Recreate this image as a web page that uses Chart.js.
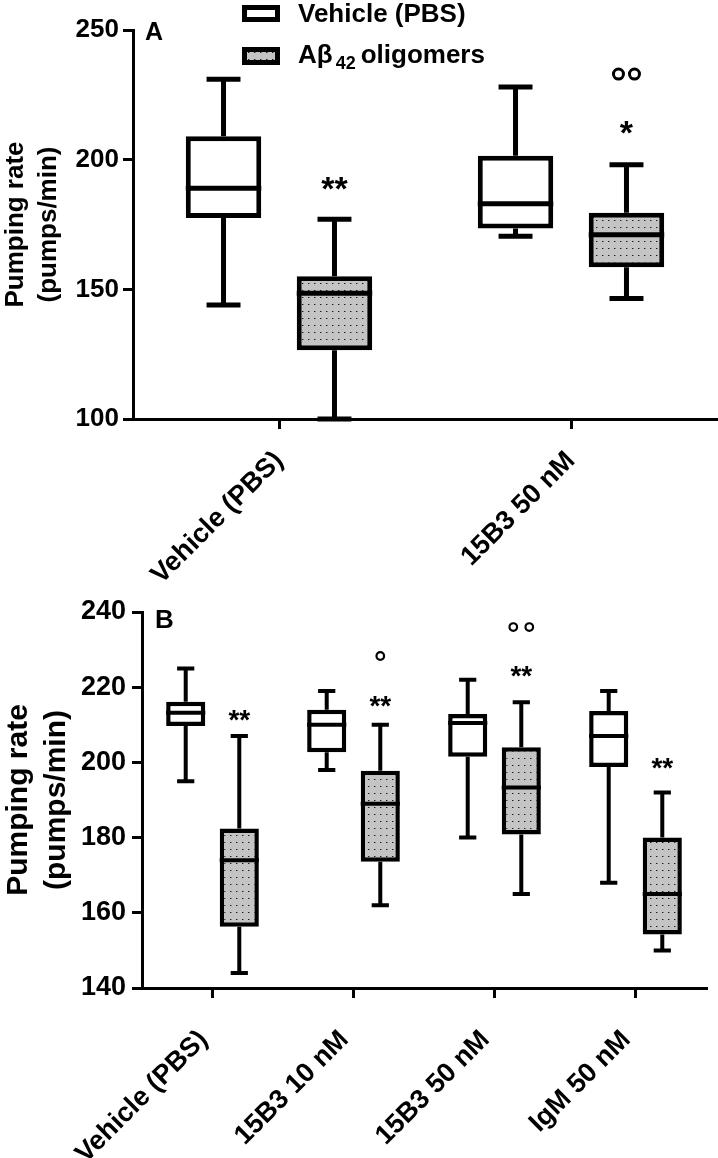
<!DOCTYPE html>
<html>
<head>
<meta charset="utf-8">
<script src="https://cdn.jsdelivr.net/npm/chart.js@4.4.0/dist/chart.umd.min.js"></script>
<style>
  html, body { margin: 0; padding: 0; background: #fff; }
  #wrap { position: relative; width: 718px; height: 1158px; }
  canvas { position: absolute; left: 0; }
  #chartA { top: 0; }
  #chartB { top: 580px; }
</style>
</head>
<body>
<div id="wrap">
  <canvas id="chartA" width="718" height="580"></canvas>
  <canvas id="chartB" width="718" height="578"></canvas>
</div>
<script>
const family = "'Liberation Sans', Arial, Helvetica, sans-serif";
Chart.defaults.font.family = family;
Chart.defaults.color = '#000';

// box stats are [min, Q1, median, Q3, max]
// panel A
const catsA = ['Vehicle (PBS)', '15B3 50 nM'];
const vehicleA = [[144, 177.5, 189, 209, 231], [170.5, 173.5, 183, 201.5, 228]];
const abetaA = [[100, 126.5, 148.5, 155, 177], [146.5, 158.5, 171, 179.5, 198]];
const ticksA = [100, 150, 200, 250];
const marksA = [
  { cat: 0, series: 1, y: 192, text: '**' },
  { cat: 1, series: 1, y: 213.5, text: '*' },
  { cat: 1, series: 1, y: 233, rings: 2 }
];

// panel B
const catsB = ['Vehicle (PBS)', '15B3 10 nM', '15B3 50 nM', 'IgM 50 nM'];
const vehicleB = [[195, 209.7, 213.2, 216.1, 225], [198, 202.7, 210, 214, 219], [180, 201.5, 210.5, 212.9, 222], [168, 198.8, 207, 213.7, 219]];
const abetaB = [[144, 156.3, 174, 182.4, 207], [162, 173.6, 189, 197.8, 210], [165, 180.8, 193.3, 204, 216], [150, 154.2, 165, 180, 192]];
const ticksB = [140, 160, 180, 200, 220, 240];
const marksB = [
  { cat: 0, series: 1, y: 213.2, text: '**' },
  { cat: 1, series: 1, y: 216.9, text: '**' },
  { cat: 1, series: 1, y: 228.3, rings: 1 },
  { cat: 2, series: 1, y: 224.9, text: '**' },
  { cat: 2, series: 1, y: 236, rings: 2 },
  { cat: 3, series: 1, y: 200.4, text: '**' }
];

const seriesNames = ['Vehicle (PBS)', 'Aβ42 oligomers'];

function dotPattern() {
  const c = document.createElement('canvas');
  c.width = 6; c.height = 7;
  const g = c.getContext('2d');
  g.fillStyle = '#c4c4c4';
  g.fillRect(0, 0, 6, 7);
  g.fillStyle = '#1a1a1a';
  g.fillRect(2, 3, 1, 1);
  g.fillStyle = '#808080';
  g.fillRect(3, 3, 1, 1);
  return g.createPattern(c, 'repeat');
}
const dots = dotPattern();

const boxPlot = {
  id: 'boxPlot',
  beforeDatasetsDraw(chart, args, o) {
    const ctx = chart.ctx, y = chart.scales.y;
    ctx.save();
    ctx.strokeStyle = '#000';
    ctx.lineWidth = o.whisker;
    chart.data.datasets.forEach((ds, di) => {
      chart.getDatasetMeta(di).data.forEach((bar, i) => {
        const s = ds.stats[i];
        const half = bar.width * o.cap / 2;
        const pMin = y.getPixelForValue(s[0]);
        const pMax = y.getPixelForValue(s[4]);
        ctx.beginPath();
        ctx.moveTo(bar.x, y.getPixelForValue(s[1])); ctx.lineTo(bar.x, pMin);
        ctx.moveTo(bar.x, y.getPixelForValue(s[3])); ctx.lineTo(bar.x, pMax);
        ctx.moveTo(bar.x - half, pMin); ctx.lineTo(bar.x + half, pMin);
        ctx.moveTo(bar.x - half, pMax); ctx.lineTo(bar.x + half, pMax);
        ctx.stroke();
      });
    });
    ctx.restore();
  },
  afterDatasetsDraw(chart, args, o) {
    const ctx = chart.ctx, y = chart.scales.y;
    ctx.save();
    ctx.strokeStyle = '#000';
    ctx.fillStyle = '#000';
    // medians
    ctx.lineWidth = o.median;
    chart.data.datasets.forEach((ds, di) => {
      chart.getDatasetMeta(di).data.forEach((bar, i) => {
        const pm = y.getPixelForValue(ds.stats[i][2]);
        ctx.beginPath();
        ctx.moveTo(bar.x - bar.width / 2, pm);
        ctx.lineTo(bar.x + bar.width / 2, pm);
        ctx.stroke();
      });
    });
    // significance marks
    o.marks.forEach(m => {
      const bar = chart.getDatasetMeta(m.series).data[m.cat];
      const py = y.getPixelForValue(m.y);
      if (m.text) {
        ctx.font = 'bold ' + o.starSize + 'px ' + family;
        ctx.textAlign = 'center';
        ctx.textBaseline = 'alphabetic';
        ctx.fillText(m.text, bar.x, py + 0.575 * o.starSize);
      } else {
        ctx.lineWidth = o.ringW;
        for (let k = 0; k < m.rings; k++) {
          const cx = bar.x + (k - (m.rings - 1) / 2) * o.ringGap;
          ctx.beginPath();
          ctx.arc(cx, py, o.ringR, 0, Math.PI * 2);
          ctx.stroke();
        }
      }
    });
    // panel letter
    ctx.font = 'bold ' + o.letterSize + 'px ' + family;
    ctx.textAlign = 'left';
    ctx.textBaseline = 'alphabetic';
    ctx.fillText(o.letter, chart.chartArea.left + o.letterDx, chart.chartArea.top + o.letterDy);
    // legend
    if (o.legend) {
      ctx.lineWidth = 5;
      ctx.fillStyle = '#fff';
      ctx.fillRect(244.5, 7.5, 33, 12);
      ctx.strokeRect(244.5, 7.5, 33, 12);
      ctx.fillStyle = dots;
      ctx.fillRect(244.5, 49.5, 33, 13);
      ctx.strokeRect(244.5, 49.5, 33, 13);
      ctx.fillStyle = '#000';
      ctx.font = 'bold 26px ' + family;
      ctx.fillText(seriesNames[0], 298, 22);
      ctx.fillText('Aβ', 298, 63);
      let x = 298 + ctx.measureText('Aβ').width + 3;
      ctx.font = 'bold 18px ' + family;
      ctx.fillText('42', x, 69);
      x += ctx.measureText('42').width + 5;
      ctx.font = 'bold 26px ' + family;
      ctx.fillText('oligomers', x, 63);
    }
    ctx.restore();
  }
};

function makeChart(id, p) {
  return new Chart(document.getElementById(id), {
    type: 'bar',
    data: {
      labels: p.labels,
      datasets: [
        {
          label: seriesNames[0],
          data: p.vehicle.map(s => [s[1], s[3]]),
          stats: p.vehicle,
          backgroundColor: '#fff',
          borderColor: '#000',
          borderWidth: p.boxLine,
          borderSkipped: false,
          categoryPercentage: 0.76,
          barPercentage: p.barPct
        },
        {
          label: seriesNames[1],
          data: p.abeta.map(s => [s[1], s[3]]),
          stats: p.abeta,
          backgroundColor: dots,
          borderColor: '#000',
          borderWidth: p.boxLine,
          borderSkipped: false,
          categoryPercentage: 0.76,
          barPercentage: p.barPct
        }
      ]
    },
    options: {
      responsive: false,
      animation: false,
      devicePixelRatio: 1,
      layout: { padding: p.padding },
      plugins: {
        legend: { display: false },
        tooltip: { enabled: false },
        boxPlot: p.box
      },
      scales: {
        x: {
          grid: { drawOnChartArea: false, drawTicks: true, tickLength: 10, lineWidth: 3, color: '#000', offset: false },
          border: { display: true, color: '#000', width: 3 },
          ticks: { font: { size: p.xFont, weight: 'bold' }, minRotation: 45, maxRotation: 45, autoSkip: false, padding: p.xPad, labelOffset: p.xShift },
          afterFit: s => { s.height = p.xHeight; }
        },
        y: {
          min: p.ticks[0],
          max: p.ticks[p.ticks.length - 1],
          grid: { drawOnChartArea: false, drawTicks: true, tickLength: 10, lineWidth: 3, color: '#000' },
          border: { display: true, color: '#000', width: 3 },
          ticks: { stepSize: p.ticks[1] - p.ticks[0], font: { size: p.yFont, weight: 'bold' }, padding: p.yPad },
          title: {
            display: true,
            text: ['Pumping rate', '(pumps/min)'],
            font: { size: p.titleFont, weight: 'bold', lineHeight: 1.25 },
            padding: { top: 0, bottom: 0 }
          },
          afterFit: s => { s.width = p.yWidth; }
        }
      }
    },
    plugins: [boxPlot]
  });
}

makeChart('chartA', {
  labels: catsA, vehicle: vehicleA, abeta: abetaA, ticks: ticksA,
  barPct: 0.68, boxLine: 5,
  padding: { top: 30, right: 1, bottom: 0, left: 0 },
  xHeight: 161, yWidth: 133,
  xFont: 27, xPad: 16, xShift: 0,
  yFont: 26, yPad: 4, titleFont: 26,
  box: { whisker: 5, median: 5, cap: 0.45, marks: marksA, starSize: 34, ringR: 5, ringW: 3, ringGap: 16,
         letter: 'A', letterSize: 25, letterDx: 12, letterDy: 10, legend: true }
});

makeChart('chartB', {
  labels: catsB, vehicle: vehicleB, abeta: abetaB, ticks: ticksB,
  barPct: 0.73, boxLine: 4.5,
  padding: { top: 32, right: 12, bottom: 0, left: 0 },
  xHeight: 170, yWidth: 142,
  xFont: 27, xPad: 26, xShift: -9,
  yFont: 27, yPad: 6, titleFont: 30,
  box: { whisker: 4, median: 4, cap: 0.44, marks: marksB, starSize: 28, ringR: 3.8, ringW: 2.2, ringGap: 16,
         letter: 'B', letterSize: 26, letterDx: 13, letterDy: 16, legend: false }
});
</script>
</body>
</html>
